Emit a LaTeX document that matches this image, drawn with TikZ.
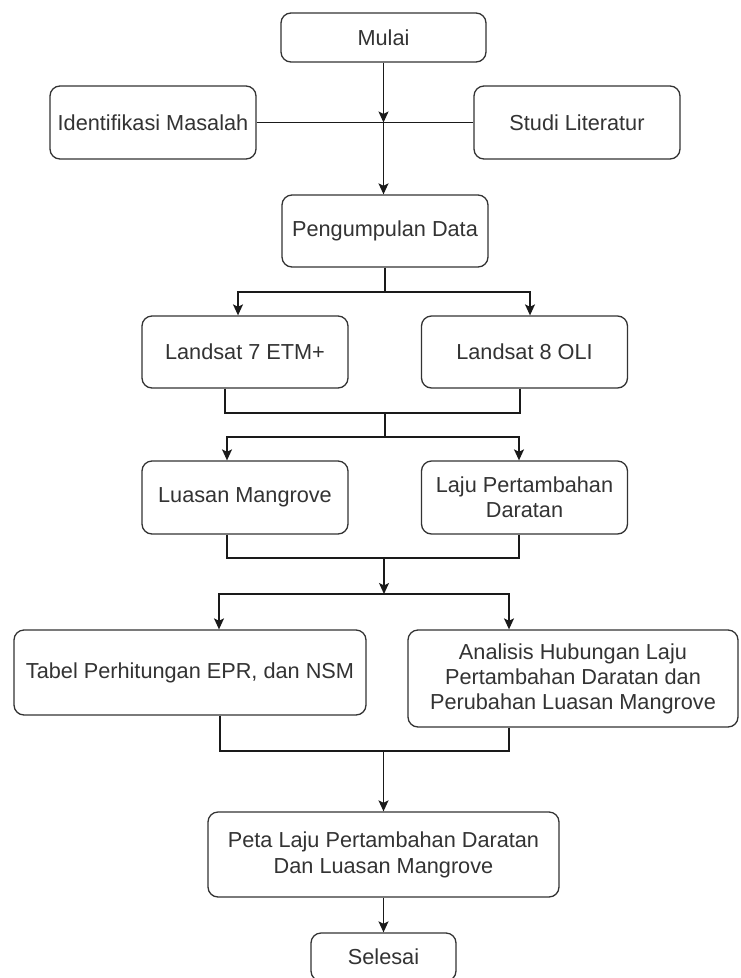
\documentclass[tikz,border=0pt]{standalone}
\usepackage{fontspec}
\setmainfont{Liberation Sans}
\usetikzlibrary{arrows.meta}
\definecolor{boxc}{HTML}{333333}
\definecolor{linec}{HTML}{1A1A1A}
\definecolor{textc}{HTML}{333333}
\begin{document}
\begin{tikzpicture}[x=1pt,y=-1pt,
  box/.style={draw=boxc, line width=1.3pt, rounded corners=10pt, inner sep=0pt, align=center, text=textc, font=\fontsize{21.7}{25}\selectfont},
  conn/.style={draw=linec, line width=1.4pt},
  arr/.style={conn, -{Stealth[length=11pt,width=10pt,inset=2.5pt]}}]
\useasboundingbox (0,0) rectangle (740,978);
\fill[white] (0,0) rectangle (740,978);
\clip (0,0) rectangle (740,978);
\node[box, minimum width=205pt, minimum height=49pt] (mulai) at (383.5,37.5) {Mulai};
\node[box, minimum width=206pt, minimum height=73pt] (idm) at (153,122.5) {Identifikasi Masalah};
\node[box, minimum width=206pt, minimum height=73pt] (stl) at (577,122.5) {Studi Literatur};
\node[box, minimum width=206pt, minimum height=72pt] (peng) at (385,231) {Pengumpulan Data};
\node[box, minimum width=206pt, minimum height=72pt] (l7) at (245,352) {Landsat 7 ETM+};
\node[box, minimum width=206pt, minimum height=72pt] (l8) at (524.5,352) {Landsat 8 OLI};
\node[box, minimum width=206pt, minimum height=73pt] (lm) at (245,497.5) {Luasan Mangrove};
\node[box, minimum width=206pt, minimum height=73pt] (lp) at (524.5,497.5) {Laju Pertambahan\\Daratan};
\node[box, minimum width=352pt, minimum height=85pt] (tab) at (190,672.5) {Tabel Perhitungan EPR, dan NSM};
\node[box, minimum width=330pt, minimum height=97pt] (an) at (573,678.5) {Analisis Hubungan Laju\\Pertambahan Daratan dan\\Perubahan Luasan Mangrove};
\node[box, minimum width=351pt, minimum height=85pt, font=\fontsize{21.7}{26}\selectfont] (peta) at (383.5,854.5) {Peta Laju Pertambahan Daratan\\Dan Luasan Mangrove};
\node[box, minimum width=145pt, minimum height=48pt] (sel) at (383.5,957) {Selesai};
% top section
\coordinate (j1) at (mulai.south |- idm.east);
\draw[conn] (idm.east) -- (stl.west);
\draw[arr] (mulai.south) -- (j1);
\draw[arr] (j1) -- (j1 |- peng.north);
% branch to landsat
\coordinate (h1) at (385,292);
\draw[conn] (peng.south) -- (h1);
\draw[arr] (h1) -| ([xshift=-7pt]l7.north);
\draw[arr] (h1) -| ([xshift=5.5pt]l8.north);
% merge landsat
\coordinate (m1) at (385,413);
\draw[conn] ([xshift=-20pt]l7.south) |- (m1);
\draw[conn] ([xshift=-4.5pt]l8.south) |- (m1);
\coordinate (h2) at (385,437);
\draw[conn] (m1) -- (h2);
\draw[arr] (h2) -| ([xshift=-18pt]lm.north);
\draw[arr] (h2) -| ([xshift=-5.5pt]lp.north);
% merge second level
\coordinate (m2) at (384,558);
\draw[conn] ([xshift=-18pt]lm.south) |- (m2);
\draw[conn] ([xshift=-5.5pt]lp.south) |- (m2);
\coordinate (h3) at (384,594);
\draw[arr] (m2) -- (h3);
\draw[arr] (h3) -| ([xshift=29pt]tab.north);
\draw[arr] (h3) -| ([xshift=-64pt]an.north);
% merge third level
\coordinate (m3) at (383.5,751);
\draw[conn] ([xshift=30pt]tab.south) |- (m3);
\draw[conn] ([xshift=-64pt]an.south) |- (m3);
\draw[arr] (m3) -- (m3 |- peta.north);
\draw[arr] (peta.south) -- (sel.north);
\end{tikzpicture}
\end{document}
